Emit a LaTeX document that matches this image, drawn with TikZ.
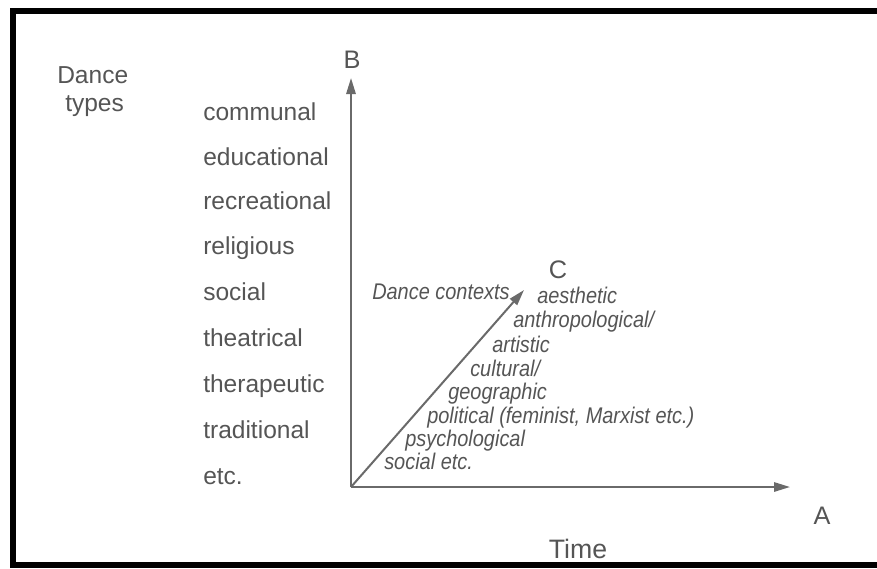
\documentclass[tikz,border=0pt]{standalone}
\usepackage{fontspec}
\setmainfont{Liberation Sans}
\newfontfamily\condsans[FakeStretch=0.88]{Liberation Sans}
\usetikzlibrary{arrows.meta}
\definecolor{ink}{HTML}{555555}
\definecolor{axis}{HTML}{6A6A6A}
\tikzset{
  typelbl/.style={anchor=base west, inner sep=0pt, text=ink, font=\fontsize{18.4}{20}\selectfont},
  ctxlbl/.style={anchor=base west, inner sep=0pt, text=ink, font=\condsans\fontsize{17}{19}\selectfont\itshape},
  axlbl/.style={inner sep=0pt, text=ink, font=\fontsize{19}{21}\selectfont},
  axisline/.style={draw=axis, line width=1.5pt, -{Triangle[length=12pt,width=7pt]}},
  frameline/.style={draw=black, line width=5pt}
}
\begin{document}
\begin{tikzpicture}[x=0.75pt,y=-0.75pt]
\useasboundingbox (0,0) rectangle (877,568);
\begin{scope}
\clip (0,0) rectangle (877,568);
\draw[frameline] (895,11) -- (13,11) -- (13,565) -- (895,565);
\end{scope}
% axes
\coordinate (O) at (351,487);
\coordinate (Btip) at (351,78);
\coordinate (Atip) at (790,487);
\coordinate (Ctip) at (524,290);
\draw[axisline] (O) -- (Btip);
\draw[axisline] (O) -- (Atip);
\draw[axisline] (O) -- (Ctip);
\node[axlbl] (B) at (352,60) {B};
\node[axlbl] (A) at (822,516) {A};
\node[axlbl] (C) at (558,270) {C};
\node[axlbl, font=\fontsize{20}{22}\selectfont] (time) at (578,549) {Time};
% dance types
\node[typelbl] (dance) at (57,83) {Dance};
\node[typelbl] (types) at (65,111) {types};
\node[typelbl] (t1) at (203,120) {communal};
\node[typelbl] (t2) at (203,165) {educational};
\node[typelbl] (t3) at (203,209) {recreational};
\node[typelbl] (t4) at (203,254) {religious};
\node[typelbl] (t5) at (203,300) {social};
\node[typelbl] (t6) at (203,346) {theatrical};
\node[typelbl] (t7) at (203,392) {therapeutic};
\node[typelbl] (t8) at (203,438) {traditional};
\node[typelbl] (t9) at (203,484) {etc.};
% contexts
\node[ctxlbl, anchor=base east] (dc) at (510,299) {Dance contexts};
\node[ctxlbl] (c1) at (537,303) {aesthetic};
\node[ctxlbl] (c2) at (513,327) {anthropological/};
\node[ctxlbl] (c3) at (492,352) {artistic};
\node[ctxlbl] (c4) at (470,376) {cultural/};
\node[ctxlbl] (c5) at (448,399) {geographic};
\node[ctxlbl] (c6) at (427,423) {political (feminist, Marxist etc.)};
\node[ctxlbl] (c7) at (405,446) {psychological};
\node[ctxlbl] (c8) at (384,469) {social etc.};
\end{tikzpicture}
\end{document}
